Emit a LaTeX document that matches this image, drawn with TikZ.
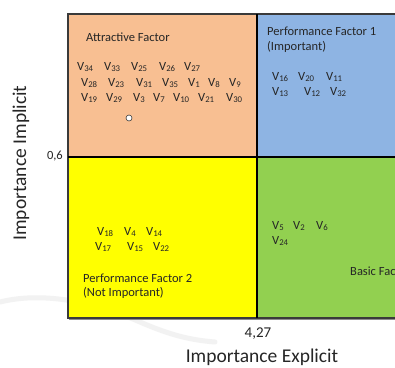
\documentclass[tikz,border=0pt]{standalone}
\usepackage{fontspec}
\setmainfont{Carlito}
\definecolor{attrfill}{HTML}{F8BF92}
\definecolor{perffill}{HTML}{8EB4E3}
\definecolor{yelfill}{HTML}{FFFF00}
\definecolor{basicfill}{HTML}{92D050}
\definecolor{edge}{HTML}{3A3A3A}
\definecolor{inktext}{HTML}{262626}
\begin{document}
\begin{tikzpicture}[x=1pt,y=-1pt,
  quad/.style={draw=edge,line width=1.1pt},
  lbl/.style={anchor=west,inner sep=0pt,text=inktext,font=\fontsize{12.5}{14}\selectfont},
  vlbl/.style={anchor=west,inner sep=0pt,text=inktext,font=\fontsize{12.5}{14}\selectfont},
  axis/.style={inner sep=0pt,text=inktext,font=\fontsize{19.5}{22}\selectfont},
  tick/.style={inner sep=0pt,text=inktext,font=\fontsize{12.5}{14}\selectfont}]
\useasboundingbox (0,0) rectangle (395,367);
\fill[white] (0,0) rectangle (395,367);
% faint decorative swoosh in the lower left
\draw[black!5,line width=5pt,line cap=round] (0,302) .. controls (40,292) and (90,300) .. (140,322) .. controls (170,335) and (190,340) .. (215,342);
\begin{scope}
\clip (0,0) rectangle (395,367);
% the four quadrants
\fill[attrfill] (68,14) rectangle (257,157);
\fill[perffill] (257,14) rectangle (410,157);
\fill[yelfill] (68,157) rectangle (257,318);
\fill[basicfill] (257,157) rectangle (410,318);
\draw[quad] (410,14) -- (68,14) -- (68,318) -- (410,318);
\draw[quad,black] (257,14) -- (257,318);
\draw[quad,black] (68,157) -- (410,157);
\draw[black!45,line width=0.8pt] (69,319.5) -- (410,319.5);
\end{scope}
% Attractive factor
\node[lbl] (attr) at (86,37) {Attractive Factor};
\foreach \n/\x in {34/77,33/104,25/131,26/159,27/184}
  \node[vlbl] (a\n) at (\x,67) {V\textsubscript{\n}};
\foreach \n/\x in {28/81,23/108,31/136,35/162,1/188,8/208,9/229}
  \node[vlbl] (a\n) at (\x,83) {V\textsubscript{\n}};
\foreach \n/\x in {19/81,29/106,3/133,7/153,10/173,21/198,30/226}
  \node[vlbl] (a\n) at (\x,98) {V\textsubscript{\n}};
\node[circle,draw=edge,fill=white,line width=0.6pt,minimum size=6pt,inner sep=0pt] (dot) at (129,118) {};
% Performance factor 1
\node[lbl] (pf1) at (267,31) {Performance Factor 1};
\node[lbl] (pf1b) at (267,47) {(Important)};
\foreach \n/\x in {16/272,20/298,11/326}
  \node[vlbl] (b\n) at (\x,77) {V\textsubscript{\n}};
\foreach \n/\x in {13/272,12/304,32/330}
  \node[vlbl] (b\n) at (\x,92) {V\textsubscript{\n}};
% Performance factor 2
\foreach \n/\x in {18/97,4/124,14/146}
  \node[vlbl] (c\n) at (\x,232) {V\textsubscript{\n}};
\foreach \n/\x in {17/95,15/127,22/153}
  \node[vlbl] (c\n) at (\x,247) {V\textsubscript{\n}};
\node[lbl] (pf2) at (83,278) {Performance Factor 2};
\node[lbl] (pf2b) at (83,293) {(Not Important)};
% Basic factor
\foreach \n/\x in {5/272,2/293,6/316}
  \node[vlbl] (d\n) at (\x,226) {V\textsubscript{\n}};
\node[vlbl] (d24) at (272,241) {V\textsubscript{24}};
\node[lbl] (basic) at (350,271) {Basic Factor};
% axes
\node[tick,anchor=east] (ytick) at (63,156) {0,6};
\node[tick,font=\fontsize{15}{17}\selectfont] (xtick) at (258,334) {4,27};
\node[axis] (xaxis) at (262,357) {Importance Explicit};
\node[axis,rotate=90] (yaxis) at (21,163) {Importance Implicit};
\end{tikzpicture}
\end{document}
